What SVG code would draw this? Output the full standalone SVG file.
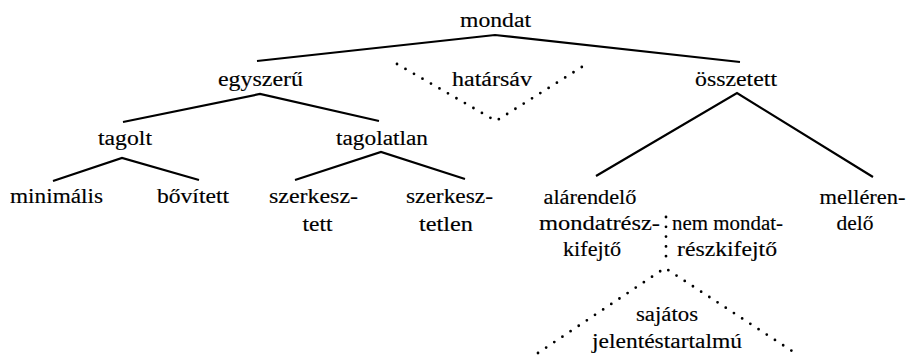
<svg xmlns="http://www.w3.org/2000/svg" width="917" height="355" viewBox="0 0 917 355">
  <style>
    .t { font-family: "Liberation Serif", "Times New Roman", serif; font-size: 20.5px; fill: #000;
         stroke: #000; stroke-width: 0.15; text-anchor: middle; }
    .s { text-anchor: start; }
    .e { text-anchor: end; }
    .solid { fill: none; stroke: #000; stroke-width: 2.2; stroke-linejoin: miter; }
    .dot { fill: none; stroke: #000; stroke-width: 2.8; stroke-linecap: round; stroke-dasharray: 0 9.8; }
  </style>
  <rect width="917" height="355" fill="#fff"/>

  <!-- tree branches: solid for the main split, dotted for the transition zones -->
  <g id="connectors">
    <polyline class="solid" points="257,61 495,35 740,62"/>
    <polyline class="solid" points="123,122 260,94 379,121"/>
    <polyline class="solid" points="53,181 122,158 199,180"/>
    <polyline class="solid" points="295,180 381,152 465,179"/>
    <polyline class="solid" points="596,176 737,93 873,177"/>
    <polyline class="dot" points="397,64 496,121 585,65"/>
    <line class="dot" x1="666" y1="217" x2="666" y2="262"/>
    <polyline class="dot" points="538,353 665,268 795,353"/>
  </g>

  <!-- labels -->
  <g id="mondat"><text class="t" x="495.5" y="27" textLength="71" lengthAdjust="spacingAndGlyphs">mondat</text></g>
  <g id="egyszeru"><text class="t" x="260.5" y="86" textLength="85" lengthAdjust="spacingAndGlyphs">egyszerű</text></g>
  <g id="hatarsav"><text class="t" x="492" y="86" textLength="80" lengthAdjust="spacingAndGlyphs">határsáv</text></g>
  <g id="osszetett"><text class="t" x="736" y="86" textLength="82" lengthAdjust="spacingAndGlyphs">összetett</text></g>
  <g id="tagolt"><text class="t" x="125" y="145" textLength="54" lengthAdjust="spacingAndGlyphs">tagolt</text></g>
  <g id="tagolatlan"><text class="t" x="382" y="145" textLength="92" lengthAdjust="spacingAndGlyphs">tagolatlan</text></g>
  <g id="minimalis"><text class="t" x="56.5" y="203" textLength="93" lengthAdjust="spacingAndGlyphs">minimális</text></g>
  <g id="bovitett"><text class="t" x="193" y="203" textLength="72" lengthAdjust="spacingAndGlyphs">bővített</text></g>
  <g id="szerkesztett">
    <text class="t" x="313.5" y="203" textLength="89" lengthAdjust="spacingAndGlyphs">szerkesz-</text>
    <text class="t" x="317.5" y="231" textLength="30" lengthAdjust="spacingAndGlyphs">tett</text>
  </g>
  <g id="szerkesztetlen">
    <text class="t" x="449.5" y="203" textLength="87" lengthAdjust="spacingAndGlyphs">szerkesz-</text>
    <text class="t" x="446" y="231" textLength="54" lengthAdjust="spacingAndGlyphs">tetlen</text>
  </g>
  <g id="alarendelo-mondatreszkifejto">
    <text class="t" x="590" y="204" textLength="93" lengthAdjust="spacingAndGlyphs">alárendelő</text>
    <text class="t e" x="660" y="230" textLength="121" lengthAdjust="spacingAndGlyphs">mondatrész-</text>
    <text class="t" x="592" y="256" textLength="58" lengthAdjust="spacingAndGlyphs">kifejtő</text>
  </g>
  <g id="nem-mondatreszkifejto">
    <text class="t s" x="672" y="230" textLength="111" lengthAdjust="spacingAndGlyphs">nem mondat-</text>
    <text class="t s" x="677" y="256" textLength="100" lengthAdjust="spacingAndGlyphs">részkifejtő</text>
  </g>
  <g id="mellerendelo">
    <text class="t" x="862.5" y="204" textLength="86" lengthAdjust="spacingAndGlyphs">melléren-</text>
    <text class="t" x="855" y="230" textLength="37" lengthAdjust="spacingAndGlyphs">delő</text>
  </g>
  <g id="sajatos-jelentestartalmu">
    <text class="t" x="667" y="321" textLength="62" lengthAdjust="spacingAndGlyphs">sajátos</text>
    <text class="t" x="667" y="348" textLength="150" lengthAdjust="spacingAndGlyphs">jelentéstartalmú</text>
  </g>
</svg>
